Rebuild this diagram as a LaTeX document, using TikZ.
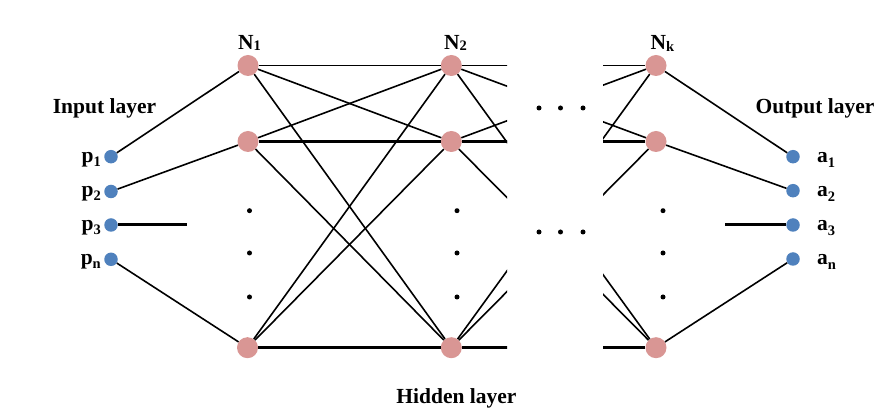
\documentclass[tikz,border=0pt]{standalone}
\usepackage{fontspec}
\setmainfont{Liberation Serif}
\definecolor{hid}{RGB}{217,150,148}
\definecolor{inp}{RGB}{79,129,189}
\newcommand{\lsub}[2][4pt]{\raisebox{-#1}{\fontsize{14.5}{14.5}\selectfont #2}}
\tikzset{
 hnode/.style={circle,fill=hid,minimum size=21pt,inner sep=0pt},
 ionode/.style={circle,fill=inp,minimum size=13.5pt,inner sep=0pt},
 vdot/.style={circle,fill=black,minimum size=5pt,inner sep=0pt},
 conn/.style={line width=1.6pt},
 thickconn/.style={line width=3pt},
 lbl/.style={font=\fontsize{21.5}{24}\selectfont\bfseries, inner sep=0pt},
}
\begin{document}
\begin{tikzpicture}[x=1pt,y=-1pt]
\useasboundingbox (0,0) rectangle (895,419);
% input nodes
\node[ionode] (p1) at (111,156.7) {};
\node[ionode] (p2) at (111,191.5) {};
\node[ionode] (p3) at (111,225) {};
\node[ionode] (pn) at (111,259.3) {};
% hidden nodes
\node[hnode] (h11) at (248,65.5) {};
\node[hnode] (h12) at (248,141.5) {};
\node[hnode] (h13) at (247.5,347.7) {};
\node[hnode] (h21) at (451.3,65.5) {};
\node[hnode] (h22) at (451.3,141.5) {};
\node[hnode] (h23) at (451.3,347.7) {};
\node[hnode] (h31) at (656,65.5) {};
\node[hnode] (h32) at (656,141.5) {};
\node[hnode] (h33) at (656,347.7) {};
% output nodes
\node[ionode] (a1) at (793,156.7) {};
\node[ionode] (a2) at (793,190.7) {};
\node[ionode] (a3) at (793,225) {};
\node[ionode] (an) at (793,259) {};
\coordinate (s3) at (186.7,225);
\coordinate (t3) at (725,225);
% vertical dots
\foreach \c/\x in {1/249.5,2/457,3/663}{
  \node[vdot] (v\c a) at (\x,210.7) {};
  \node[vdot] (v\c b) at (\x,253) {};
  \node[vdot] (v\c c) at (\x,297) {};
}
% horizontal dots in the gap
\node[vdot] (g1) at (539,108) {};
\node[vdot] (g2) at (560.5,108) {};
\node[vdot] (g3) at (583,108) {};
\node[vdot] (g4) at (539,232) {};
\node[vdot] (g5) at (560.5,232) {};
\node[vdot] (g6) at (583,232) {};
% input connections
\draw[conn] (p1) -- (h11);
\draw[conn] (p2) -- (h12);
\draw[thickconn] (p3) -- (s3);
\draw[conn] (pn) -- (h13);
% col1 - col2
\draw[conn] (h11) -- (h21);
\draw[conn] (h11) -- (h22);
\draw[conn] (h11) -- (h23);
\draw[conn] (h12) -- (h21);
\draw[thickconn] (h12) -- (h22);
\draw[conn] (h12) -- (h23);
\draw[conn] (h13) -- (h21);
\draw[conn] (h13) -- (h22);
\draw[thickconn] (h13) -- (h23);
% col2 - col3 with a gap
\foreach \xa/\xb in {0/507,603/895}{
\begin{scope}
\clip (\xa,0) rectangle (\xb,419);
\draw[conn] (h21) -- (h31);
\draw[conn] (h21) -- (h32);
\draw[conn] (h21) -- (h33);
\draw[conn] (h22) -- (h31);
\draw[thickconn] (h22) -- (h32);
\draw[conn] (h22) -- (h33);
\draw[conn] (h23) -- (h31);
\draw[conn] (h23) -- (h32);
\draw[thickconn] (h23) -- (h33);
\end{scope}
}
% output connections
\draw[conn] (h31) -- (a1);
\draw[conn] (h32) -- (a2);
\draw[thickconn] (t3) -- (a3);
\draw[conn] (h33) -- (an);
% labels
\node[lbl,anchor=base] (tin) at (104.5,114) {Input layer};
\node[lbl,anchor=base] (tout) at (815,114) {Output layer};
\node[lbl,anchor=base] (thid) at (456.5,404) {Hidden layer};
\node[lbl,anchor=base] (n1) at (249.5,50) {N\lsub[1pt]{1}};
\node[lbl,anchor=base] (n2) at (455.5,50) {N\lsub[1pt]{2}};
\node[lbl,anchor=base] (nk) at (662.5,50) {N\lsub[1.7pt]{k}};
\node[lbl,anchor=base east] (lp1) at (101,162.2) {p\lsub{1}};
\node[lbl,anchor=base east] (lp2) at (101,197) {p\lsub{2}};
\node[lbl,anchor=base east] (lp3) at (101,230.5) {p\lsub{3}};
\node[lbl,anchor=base east] (lpn) at (101,264.8) {p\lsub{n}};
\node[lbl,anchor=base west] (la1) at (817,162.7) {a\lsub[5pt]{1}};
\node[lbl,anchor=base west] (la2) at (817,196.7) {a\lsub[5pt]{2}};
\node[lbl,anchor=base west] (la3) at (817,231) {a\lsub[5pt]{3}};
\node[lbl,anchor=base west] (lan) at (817,265) {a\lsub[5pt]{n}};
\end{tikzpicture}
\end{document}
